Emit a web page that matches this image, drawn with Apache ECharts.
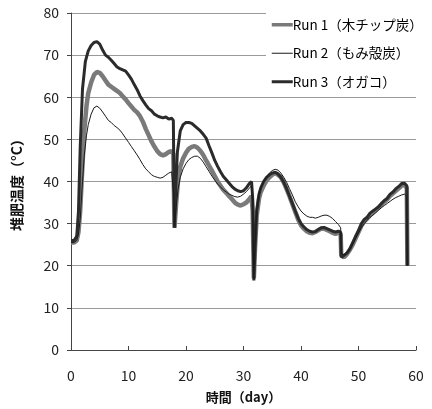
<!DOCTYPE html>
<html><head><meta charset="utf-8">
<script src="https://cdn.jsdelivr.net/npm/echarts@6/dist/echarts.min.js"></script>
<style>html,body{margin:0;padding:0;background:#fff}#c{width:432px;height:409px}</style>
</head><body><div id="c"></div>
<script>
var seriesNames = ['Run 1（木チップ炭）', 'Run 2（もみ殻炭）', 'Run 3（オガコ）'];
var xTicks = [0, 10, 20, 30, 40, 50, 60];
var yTicks = [0, 10, 20, 30, 40, 50, 60, 70, 80];

var run1 = [[0,25.5],[0.5,25.5],[1,26],[1.3,28],[1.6,33],[2,44],[2.3,52],[2.7,58],[3,61],[3.5,63.5],[4,65.3],[4.5,66],[5,65.8],[5.5,65],[6,64],[6.5,63],[7,62.5],[7.5,62],[8,61.5],[8.5,61],[9,60.2],[9.5,59.5],[10,58.6],[10.5,57.8],[11,57],[11.5,56.4],[12,55.5],[12.5,54.2],[13,52.5],[13.5,51],[14,49.5],[14.5,48.3],[15,47.2],[15.5,46.5],[16,46.2],[16.5,46.5],[17,47],[17.5,47.2],[17.8,46.5],[17.9,38],[18,29],[18.3,35],[18.6,40],[19,43.5],[19.5,45.5],[20,46.8],[20.5,47.8],[21,48.2],[21.5,48.4],[22,48],[22.5,47.3],[23,46.3],[23.5,45],[24,43.8],[24.5,42.6],[25,41.3],[25.5,40],[26,39],[26.5,38],[27,37.3],[27.5,36.5],[28,35.8],[28.5,35],[29,34.5],[29.5,34.3],[30,34.6],[30.5,35],[31,35.8],[31.4,36.5],[31.6,33],[31.8,17],[32,24],[32.3,32],[32.7,36],[33,37.5],[33.5,39],[34,40.2],[34.5,41],[35,41.6],[35.5,42],[36,41.6],[36.5,41],[37,39.8],[37.5,38.2],[38,36.5],[38.5,34.6],[39,32.8],[39.5,31],[40,29.6],[40.5,28.8],[41,28.2],[41.5,27.8],[42,27.7],[42.5,28],[43,28.4],[43.5,28.8],[44,28.8],[44.5,28.5],[45,28.2],[45.5,27.8],[46,27.6],[46.5,27.8],[46.9,27.5],[47,22.5],[47.5,22],[48,22.8],[48.5,23.8],[49,25],[49.5,26.5],[50,28],[50.5,29.5],[51,30.5],[51.5,31.2],[52,32],[52.5,32.6],[53,33.2],[53.5,33.8],[54,34.5],[54.5,35.2],[55,35.8],[55.5,36.6],[56,37.2],[56.5,37.8],[57,38.4],[57.5,39],[58,39.2],[58.4,38.5],[58.5,20]];

var run2 = [[0,25.5],[0.5,25.5],[1,26],[1.3,27.5],[1.6,31],[2,40],[2.3,46],[2.7,51],[3,53.5],[3.5,56],[4,57.5],[4.5,57.9],[5,57.4],[5.5,56.5],[6,55.5],[6.5,54.5],[7,54],[7.5,53.3],[8,52.8],[8.5,52.2],[9,51.3],[9.5,50.3],[10,49.3],[10.5,48.3],[11,47.3],[11.5,46.3],[12,45.2],[12.5,44],[13,43],[13.5,42.3],[14,41.6],[14.5,41.2],[15,41],[15.5,40.8],[16,41],[16.5,41.5],[17,42],[17.5,42.3],[17.8,42],[17.9,36],[18,29.5],[18.3,34],[18.6,38],[19,41],[19.5,43],[20,44.3],[20.5,45.2],[21,45.7],[21.5,46],[22,46],[22.5,45.5],[23,44.6],[23.5,43.5],[24,42.4],[24.5,41.3],[25,40.3],[25.5,39.4],[26,38.7],[26.5,38],[27,37.5],[27.5,37],[28,36.7],[28.5,36.4],[29,36.3],[29.5,36.5],[30,37],[30.5,37.6],[31,38.4],[31.4,39],[31.6,35],[31.8,17],[32,25],[32.3,33],[32.7,37],[33,38.5],[33.5,40],[34,41],[34.5,42],[35,42.6],[35.5,42.9],[36,42.7],[36.5,42],[37,41],[37.5,39.8],[38,38.3],[38.5,36.8],[39,35.2],[39.5,34],[40,33],[40.5,32.3],[41,31.8],[41.5,31.5],[42,31.5],[42.5,31.3],[43,31.5],[43.5,31.8],[44,32],[44.5,32],[45,31.7],[45.5,31.2],[46,30.5],[46.5,29.8],[46.9,29],[47,23],[47.5,22.5],[48,23.2],[48.5,24],[49,25.2],[49.5,26.5],[50,27.8],[50.5,29],[51,30],[51.5,30.8],[52,31.5],[52.5,32],[53,32.6],[53.5,33.2],[54,33.8],[54.5,34.3],[55,34.8],[55.5,35.3],[56,35.8],[56.5,36.2],[57,36.5],[57.5,36.8],[58,37],[58.4,36.5],[58.5,20]];

var run3 = [[0,26],[0.5,26],[1,27],[1.3,33],[1.6,48],[2,62],[2.5,68.5],[3,71],[3.5,72.3],[4,73],[4.5,73.2],[5,72.6],[5.5,71.2],[6,70],[6.5,69.5],[7,68.8],[7.5,68],[8,67.2],[8.5,66.8],[9,66.5],[9.5,66.2],[10,65.3],[10.5,64.3],[11,63],[11.5,61.8],[12,60.3],[12.5,59.2],[13,58.2],[13.5,57.3],[14,56.8],[14.5,56],[15,55.6],[15.5,55.3],[16,55.1],[16.5,55.3],[17,54.8],[17.5,55],[17.8,54.5],[17.9,40],[18,29],[18.2,38],[18.5,47],[19,52],[19.5,53.5],[20,54],[20.5,54],[21,53.8],[21.5,53.2],[22,52.6],[22.5,52],[23,51.2],[23.5,50.3],[24,48.5],[24.5,46.8],[25,45],[25.5,43.6],[26,42.3],[26.5,41.2],[27,40.4],[27.5,39.6],[28,38.8],[28.5,38.2],[29,37.8],[29.5,37.6],[30,37.8],[30.5,38.5],[31,39.5],[31.4,40],[31.6,36],[31.8,16.5],[32,24],[32.3,33],[32.7,37],[33,38.5],[33.5,40],[34,41],[34.5,41.6],[35,42],[35.5,42.2],[36,41.8],[36.5,41],[37,39.8],[37.5,38.3],[38,36.5],[38.5,34.8],[39,33],[39.5,31.3],[40,30],[40.5,29.2],[41,28.6],[41.5,28.2],[42,28],[42.5,28.1],[43,28.6],[43.5,29],[44,29.1],[44.5,28.8],[45,28.5],[45.5,28.2],[46,28],[46.5,28.2],[46.9,28],[47,22],[47.5,22.5],[48,23],[48.5,24],[49,25.5],[49.5,27],[50,28.3],[50.5,30],[51,31],[51.5,31.5],[52,32.5],[52.5,33],[53,33.5],[53.5,34],[54,34.8],[54.5,35.5],[55,36],[55.5,37],[56,37.5],[56.5,38.3],[57,38.8],[57.5,39.5],[58,39.6],[58.4,39],[58.5,20]];

var font = '"Noto Sans CJK JP", "Noto Sans", sans-serif';
var chart = echarts.init(document.getElementById('c'), null, {renderer: 'canvas'});
chart.setOption({
  animation: false,
  backgroundColor: '#fff',
  grid: {left: 71, right: 16, top: 13, bottom: 59},
  legend: {
    data: [
      {name: seriesNames[0], lineStyle: {width: 3.5, color: '#7a7a7a'}},
      {name: seriesNames[1], lineStyle: {width: 1, color: '#1a1a1a'}},
      {name: seriesNames[2], lineStyle: {width: 3, color: '#2b2b2b'}}
    ],
    orient: 'vertical',
    left: 266, top: 10,
    backgroundColor: '#fff',
    padding: [8, 10, 6, 4],
    itemWidth: 21, itemHeight: 14, itemGap: 15,
    itemStyle: {opacity: 0},
    textStyle: {fontFamily: font, fontSize: 13.5, color: '#000', padding: [0,0,0,-5]}
  },
  xAxis: {
    type: 'value', min: xTicks[0], max: xTicks[xTicks.length-1], interval: 10,
    name: '時間（day）', nameLocation: 'middle', nameGap: 41,
    nameTextStyle: {fontFamily: font, fontSize: 13, fontWeight: 'bold', color: '#111'},
    axisLine: {show: true, lineStyle: {color: '#444', width: 1}},
    axisTick: {show: true, inside: true, length: 4, lineStyle: {color: '#444'}},
    axisLabel: {fontFamily: font, fontSize: 14, color: '#222', margin: 19},
    splitLine: {show: false}
  },
  yAxis: {
    type: 'value', min: yTicks[0], max: yTicks[yTicks.length-1], interval: 10,
    name: '堆肥温度（°C）', nameLocation: 'middle', nameGap: 47, nameRotate: 90,
    nameTextStyle: {fontFamily: font, fontSize: 14, fontWeight: 'bold', color: '#111'},
    axisLine: {show: true, lineStyle: {color: '#444', width: 1}},
    axisTick: {show: true, length: 4, lineStyle: {color: '#444'}},
    axisLabel: {fontFamily: font, fontSize: 14, color: '#222', margin: 12},
    splitLine: {show: true, lineStyle: {color: '#999', width: 1}}
  },
  series: [
    {name: seriesNames[0], type: 'line', data: run1, symbol: 'none', z: 2,
     lineStyle: {color: '#7a7a7a', width: 4.5}, itemStyle: {color: '#7a7a7a'}},
    {name: seriesNames[2], type: 'line', data: run3, symbol: 'none', z: 3,
     lineStyle: {color: '#2b2b2b', width: 3}, itemStyle: {color: '#2b2b2b'}},
    {name: seriesNames[1], type: 'line', data: run2, symbol: 'none', z: 4,
     lineStyle: {color: '#1a1a1a', width: 1}, itemStyle: {color: '#1a1a1a'}}
  ]
});
</script></body></html>
